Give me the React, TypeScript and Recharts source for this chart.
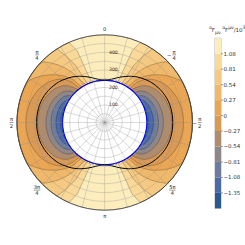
import React from "react";
import {
  Bar,
  BarChart,
  PolarAngleAxis,
  PolarGrid,
  PolarRadiusAxis,
  Radar,
  RadarChart,
  ReferenceArea,
  XAxis,
  YAxis,
} from "recharts";

// polar frame
const CX = 104.7;
const CY = 122.5;
const OUTER = 87.7;
const R_MAX = 500;

// one quadrant, theta = 0..90 deg (from the top, counter-clockwise), step 3
const quadStep = 3;
const horizonRadius = 240;
const ergosphere = [242, 243, 246, 250, 256, 263, 271, 279, 287, 296, 304, 312, 320, 327, 334, 341, 348, 354, 359, 364, 369, 373, 377, 380, 383, 385, 386, 387, 388, 388, 388];

// outer radius of the region where the field is below each level
const levelValues = [1.08, 0.81, 0.54, 0.27, 0, -0.27, -0.54, -0.81, -1.08, -1.35];
const level108 = [240, 240, 240, 240, 240, 240, 240, 438, 500, 500, 500, 500, 500, 500, 500, 500, 500, 500, 500, 500, 500, 500, 500, 500, 500, 500, 500, 500, 500, 500, 500];
const level081 = [240, 240, 240, 240, 240, 240, 240, 240, 240, 365, 438, 500, 500, 500, 500, 500, 500, 500, 500, 500, 500, 500, 500, 500, 500, 500, 500, 500, 500, 500, 500];
const level054 = [240, 240, 240, 240, 240, 240, 240, 240, 240, 240, 279, 339, 384, 423, 457, 490, 500, 500, 500, 500, 500, 500, 500, 500, 500, 500, 500, 500, 500, 500, 500];
const level027 = [240, 240, 240, 240, 240, 240, 240, 240, 240, 240, 240, 240, 297, 331, 359, 384, 407, 429, 450, 469, 488, 500, 500, 500, 500, 500, 500, 500, 500, 500, 500];
const level000 = [240, 240, 240, 240, 240, 240, 240, 240, 240, 240, 240, 240, 240, 296, 328, 350, 367, 381, 393, 403, 412, 420, 426, 432, 437, 441, 444, 446, 448, 449, 449];
const levelM027 = [240, 240, 240, 240, 240, 240, 240, 240, 240, 240, 240, 240, 240, 240, 269, 296, 314, 327, 337, 346, 353, 359, 365, 369, 373, 376, 379, 381, 382, 383, 383];
const levelM054 = [240, 240, 240, 240, 240, 240, 240, 240, 240, 240, 240, 240, 240, 240, 240, 240, 269, 284, 295, 303, 309, 315, 320, 324, 327, 329, 331, 333, 334, 335, 335];
const levelM081 = [240, 240, 240, 240, 240, 240, 240, 240, 240, 240, 240, 240, 240, 240, 240, 240, 240, 240, 261, 273, 281, 286, 291, 295, 298, 301, 303, 304, 305, 306, 306];
const levelM108 = [240, 240, 240, 240, 240, 240, 240, 240, 240, 240, 240, 240, 240, 240, 240, 240, 240, 240, 240, 240, 253, 260, 265, 269, 271, 273, 275, 276, 277, 278, 278];
const levelM135 = [240, 240, 240, 240, 240, 240, 240, 240, 240, 240, 240, 240, 240, 240, 240, 240, 240, 240, 240, 240, 240, 240, 240, 246, 248, 249, 250, 251, 252, 252, 252];
const levelRadii = [level108, level081, level054, level027, level000, levelM027, levelM054, levelM081, levelM108, levelM135];

// above 1.08 first, below -1.35 last
const bandColors = ["#fdedbd", "#f9d898", "#f5c982", "#f0b86a", "#eaa653", "#d99a56", "#b08c6e", "#8e8688", "#6d7b9e", "#4b6aa8", "#2b5891"];

// theta labels every 45 deg, counter-clockwise from the top
const angleLabels = ["0", "π/4", "π/2", "3π/4", "π", "5π/4", "−π/2", "−π/4"];
const radiusLabels = [100, 200, 300, 400];
const gridStep = 15;

const FONT = "'DejaVu Sans', sans-serif";

function quadIndex(deg: number) {
  let q = deg;
  if (deg > 90 && deg <= 180) q = 180 - deg;
  else if (deg > 180 && deg <= 270) q = deg - 180;
  else if (deg > 270) q = 360 - deg;
  return Math.round(q / quadStep);
}

// recharts walks clockwise, theta runs counter-clockwise
const polarRows = Array.from({ length: 360 / quadStep }, (_, i) => {
  const deg = (360 - i * quadStep) % 360;
  const k = quadIndex(deg);
  const row: Record<string, number> = {
    deg,
    rim: R_MAX,
    hole: horizonRadius,
    ergo: ergosphere[k],
  };
  levelRadii.forEach((arr, j) => {
    row[`l${j}`] = arr[k];
  });
  return row;
});

const gridRows = Array.from({ length: 360 / gridStep }, (_, i) => ({ deg: (360 - i * gridStep) % 360, zero: 0 }));

const colorbarRow = [
  bandColors.reduce<Record<string, number | string>>(
    (acc, _c, i) => {
      acc[`b${i}`] = 1;
      return acc;
    },
    { name: "cb" },
  ),
];
const colorbarTicks = levelValues.map((_, i) => i + 1);
const colorbarLabels = [...levelValues].reverse();

function formatLevel(v: number) {
  if (v === 0) return "0";
  return v < 0 ? `−${Math.abs(v).toFixed(2)}` : v.toFixed(2);
}

function AngleTick(props: any) {
  const { x, y, payload } = props;
  const deg = Number(payload.value);
  if (deg % 45 !== 0) return <g />;
  const label = angleLabels[deg / 45];
  const pull = deg % 90 === 0 ? 2.5 : 0;
  const d = Math.hypot(x - CX, y - CY) || 1;
  const px = x - (pull * (x - CX)) / d;
  const py = y - (pull * (y - CY)) / d;
  const fs = 5.2;
  if (!label.includes("/")) {
    return (
      <text x={px} y={py} textAnchor="middle" dominantBaseline="central" fontSize={fs} fill="#262626" fontFamily={FONT}>
        {label}
      </text>
    );
  }
  const negative = label.startsWith("−");
  const [num, den] = label.replace("−", "").split("/");
  const w = num.length > 1 ? 6.4 : 3.6;
  const fx = negative ? px + 1.8 : px;
  return (
    <g fontFamily={FONT} fontSize={fs} fill="#262626">
      {negative && (
        <text x={fx - w / 2 - 1} y={py} textAnchor="end" dominantBaseline="central">
          −
        </text>
      )}
      <text x={fx} y={py - 1.1} textAnchor="middle">
        {num}
      </text>
      <line x1={fx - w / 2} x2={fx + w / 2} y1={py} y2={py} stroke="#262626" strokeWidth={0.45} />
      <text x={fx} y={py + 5.2} textAnchor="middle">
        {den}
      </text>
    </g>
  );
}

function RadiusTick(props: any) {
  const { x, y, payload } = props;
  const v = Number(payload.value);
  if (!radiusLabels.includes(v)) return <g />;
  return (
    <text x={x + 4.3} y={y} dominantBaseline="central" fontSize={4.6} fill="#262626" fontFamily={FONT}>
      {`${v}.`}
    </text>
  );
}

const layer: React.CSSProperties = { position: "absolute", left: 0, top: 0 };

export default function App() {
  return (
    <div style={{ position: "absolute", left: 0, top: 0, width: 245, height: 245, background: "#fff", fontFamily: FONT }}>
      <div style={layer}>
        <RadarChart width={245} height={245} cx={CX} cy={CY} outerRadius={OUTER} data={polarRows} margin={{ top: 0, right: 0, bottom: 0, left: 0 }}>
          <PolarAngleAxis dataKey="deg" tick={false} tickLine={false} axisLine={false} />
          <PolarRadiusAxis type="number" domain={[0, R_MAX]} tick={false} axisLine={false} />
          <Radar dataKey="rim" fill={bandColors[0]} fillOpacity={1} stroke="none" dot={false} isAnimationActive={false} />
          {levelValues.map((lv, i) => (
            <Radar
              key={lv}
              dataKey={`l${i}`}
              fill={bandColors[i + 1]}
              fillOpacity={1}
              stroke="rgba(0,0,0,0.45)"
              strokeWidth={0.5}
              dot={false}
              isAnimationActive={false}
            />
          ))}
          <Radar dataKey="hole" fill="#ffffff" fillOpacity={1} stroke="#0000ff" strokeWidth={1.1} dot={false} isAnimationActive={false} />
          <Radar dataKey="ergo" fill="none" fillOpacity={0} stroke="#000000" strokeWidth={1} dot={false} isAnimationActive={false} />
        </RadarChart>
      </div>

      <div style={layer}>
        <RadarChart width={245} height={245} cx={CX} cy={CY} outerRadius={OUTER} data={gridRows} margin={{ top: 0, right: 0, bottom: 0, left: 0 }}>
          <PolarGrid gridType="circle" stroke="#8c8c8c" strokeOpacity={0.55} strokeWidth={0.6} />
          <PolarAngleAxis
            dataKey="deg"
            tick={AngleTick}
            tickLine={false}
            tickSize={8}
            axisLineType="circle"
            axisLine={{ stroke: "#333333", strokeWidth: 0.8 }}
          />
          <PolarRadiusAxis angle={90} type="number" domain={[0, R_MAX]} tickCount={11} axisLine={false} tickLine={false} tick={RadiusTick} />
          <Radar dataKey="zero" fill="none" stroke="none" dot={false} isAnimationActive={false} />
        </RadarChart>
      </div>

      <div style={layer}>
        <BarChart width={245} height={245} data={colorbarRow} barCategoryGap={0} margin={{ top: 38.3, right: 0, bottom: 36.7, left: 215 }}>
          <XAxis dataKey="name" hide />
          <YAxis
            orientation="right"
            type="number"
            domain={[0, bandColors.length]}
            ticks={colorbarTicks}
            interval={0}
            width={24}
            tickSize={2}
            tickMargin={0.5}
            axisLine={false}
            tickLine={{ stroke: "#444", strokeWidth: 0.5 }}
            tick={{ fontSize: 5.5, fill: "#333", fontFamily: FONT }}
            tickFormatter={(v: number) => formatLevel(colorbarLabels[v - 1])}
          />
          {bandColors
            .map((c, i) => ({ c, i }))
            .reverse()
            .map(({ c, i }) => (
              <Bar key={i} dataKey={`b${i}`} stackId="cb" fill={c} isAnimationActive={false} />
            ))}
          <ReferenceArea y1={0} y2={bandColors.length} fill="none" stroke="#777" strokeWidth={0.5} ifOverflow="visible" />
        </BarChart>
      </div>

      <div
        style={{
          position: "absolute",
          left: 209,
          top: 24,
          fontSize: 5.5,
          lineHeight: "8px",
          color: "#333",
          whiteSpace: "nowrap",
        }}
      >
        <sup>a</sup>F<sub>μν</sub> <sup>a</sup>F<sup>μν</sup>/10<sup>3</sup>
      </div>
    </div>
  );
}
